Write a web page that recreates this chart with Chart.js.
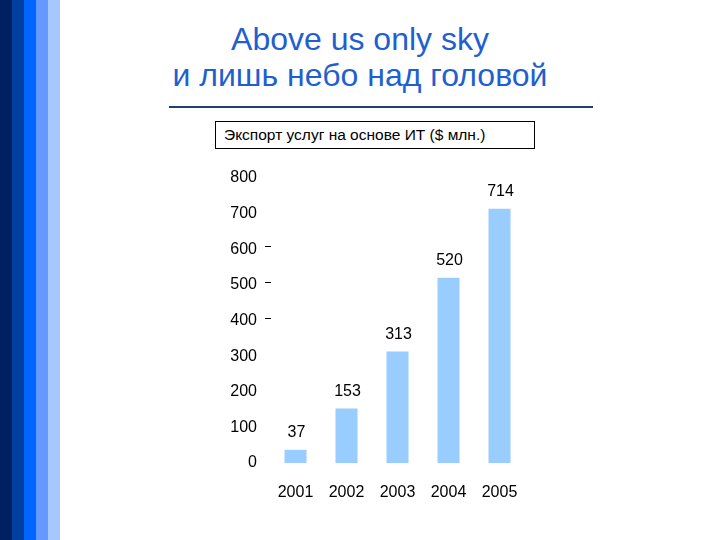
<!DOCTYPE html>
<html><head><meta charset="utf-8">
<script src="https://cdn.jsdelivr.net/npm/chart.js@4"></script>
<style>
body{margin:0;width:720px;height:540px;position:relative;background:#fff;font-family:"Liberation Sans",Arial,sans-serif;overflow:hidden}
.s{position:absolute;top:0;height:540px;width:12px}
#t{position:absolute;left:0;width:720px;top:21px;text-align:center;color:#1f5fd0;font-size:32px;line-height:36px}
#hr{position:absolute;left:169px;width:424px;top:106px;height:2px;background:#1f3f6f}
#box{position:absolute;left:215px;top:121px;height:26px;border:1px solid #000;font-size:15.5px;line-height:26px;box-sizing:content-box;padding-left:8px;width:310px}
canvas{position:absolute;left:0;top:0}
</style></head><body>
<div class="s" style="left:0;background:#002060"></div>
<div class="s" style="left:12px;background:#0040a0"></div>
<div class="s" style="left:24px;background:#0066ff"></div>
<div class="s" style="left:36px;background:#6699ff"></div>
<div class="s" style="left:48px;background:#a6c8ff"></div>
<div id="t">Above us only sky<br>и лишь небо над головой</div>
<div id="hr"></div>
<div id="box">Экспорт услуг на основе ИТ ($ млн.)</div>
<canvas id="c" width="720" height="540"></canvas>
<script>
const categories=["2001","2002","2003","2004","2005"];
const values=[37,153,313,520,714];
const dashTicks=[400,500,600];
const F='"Liberation Sans", Arial';
const labelsPlugin={id:'lbl',afterDatasetsDraw(ch){const ctx=ch.ctx;const m=ch.getDatasetMeta(0);ctx.save();ctx.font='16px '+F;ctx.fillStyle='#000';ctx.textAlign='center';ctx.textBaseline='middle';
m.data.forEach((b,i)=>{ctx.fillText(values[i],b.x+1,b.y-17);});
const y=ch.scales.y;ctx.strokeStyle='#000';ctx.lineWidth=1;dashTicks.forEach(v=>{const p=Math.round(y.getPixelForValue(v))-2.5;ctx.beginPath();ctx.moveTo(265,p);ctx.lineTo(271,p);ctx.stroke();});
ctx.restore();}};
new Chart(document.getElementById('c'),{type:'bar',
data:{labels:categories,datasets:[{data:values,backgroundColor:'#99ccff',categoryPercentage:1,barPercentage:22/51}]},
options:{responsive:false,animation:false,events:[],
layout:{padding:{left:200,right:195,top:178,bottom:37}},
plugins:{legend:{display:false},tooltip:{enabled:false}},
scales:{
y:{min:0,max:800,ticks:{stepSize:100,color:'#000',font:{size:16,family:F},padding:13},grid:{display:false,drawTicks:false},border:{display:false},afterFit:s=>{s.width=70;}},
x:{ticks:{color:'#000',font:{size:16,family:F},padding:20},grid:{display:false,drawTicks:false},border:{display:false},afterFit:s=>{s.height=40;}}
}},plugins:[labelsPlugin]});
</script></body></html>
